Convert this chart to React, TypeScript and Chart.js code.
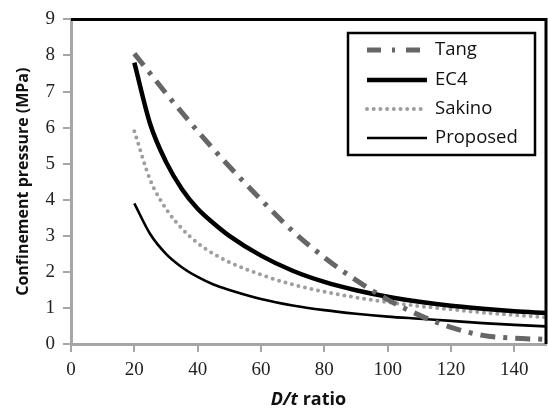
import React, { useEffect, useRef } from "react";
import { Chart, registerables } from "chart.js";

Chart.register(...registerables);

const X_VALUES = [20, 25, 30, 35, 40, 45, 50, 60, 70, 80, 90, 100, 110, 120, 130, 140, 150];
const TANG = [8.05, 7.5, 6.95, 6.42, 5.9, 5.4, 4.92, 4.0, 3.13, 2.4, 1.77, 1.23, 0.8, 0.46, 0.24, 0.16, 0.13];
const EC4 = [7.8, 6.1, 5.05, 4.3, 3.75, 3.35, 3.0, 2.45, 2.03, 1.72, 1.49, 1.31, 1.17, 1.06, 0.98, 0.91, 0.86];
const SAKINO = [5.9, 4.55, 3.75, 3.2, 2.8, 2.5, 2.27, 1.92, 1.65, 1.45, 1.29, 1.16, 1.05, 0.96, 0.87, 0.8, 0.74];
const PROPOSED = [3.9, 3.05, 2.5, 2.13, 1.86, 1.65, 1.5, 1.25, 1.07, 0.94, 0.84, 0.76, 0.7, 0.64, 0.58, 0.53, 0.49];
const X_TICKS = [0, 20, 40, 60, 80, 100, 120, 140];
const Y_TICKS = [0, 1, 2, 3, 4, 5, 6, 7, 8, 9];
const SERIES_NAMES = ["Tang", "EC4", "Sakino", "Proposed"];
const X_TITLE_ITALIC = "D/t";
const X_TITLE_REST = " ratio";
const Y_TITLE = "Confinement pressure (MPa)";

const STYLES = [
  { color: "#666666", width: 5, dash: [15, 8, 4, 8], cap: "butt" },
  { color: "#000000", width: 4.5, dash: [], cap: "butt" },
  { color: "#9e9e9e", width: 4, dash: [0, 6.7], cap: "round" },
  { color: "#000000", width: 2.6, dash: [], cap: "butt" },
];

const SERIES = [TANG, EC4, SAKINO, PROPOSED];

export default function App() {
  const ref = useRef<HTMLCanvasElement>(null);

  useEffect(() => {
    if (!ref.current) return;

    const framePlugin = {
      id: "frameAndLegend",
      afterDatasetsDraw(chart: any) {
        const { ctx, chartArea } = chart;
        const { left, top, right, bottom } = chartArea;
        ctx.save();
        ctx.strokeStyle = "#000";
        ctx.lineWidth = 3;
        ctx.setLineDash([]);
        ctx.beginPath();
        ctx.moveTo(left, top);
        ctx.lineTo(right, top);
        ctx.lineTo(right, bottom);
        ctx.stroke();

        const bx = 348, by = 33, bw = 187, bh = 122;
        ctx.fillStyle = "#fff";
        ctx.fillRect(bx, by, bw, bh);
        ctx.lineWidth = 2.5;
        ctx.strokeStyle = "#000";
        ctx.strokeRect(bx, by, bw, bh);

        const rowY = [50, 80, 109, 138];
        const legendDash = [[14, 11, 3, 11], [], [0, 6.7], []];
        ctx.font = "18.5px 'Open Sans'";
        ctx.textBaseline = "middle";
        ctx.textAlign = "left";
        SERIES_NAMES.forEach((name, i) => {
          const s = STYLES[i];
          ctx.beginPath();
          ctx.strokeStyle = s.color;
          ctx.lineWidth = s.width;
          ctx.lineCap = s.cap;
          ctx.setLineDash(legendDash[i]);
          ctx.moveTo(367, rowY[i]);
          ctx.lineTo(427, rowY[i]);
          ctx.stroke();
          ctx.setLineDash([]);
          ctx.lineCap = "butt";
          ctx.fillStyle = "#111";
          ctx.fillText(name, 435, rowY[i]);
        });

        ctx.restore();
      },
      afterDraw(chart: any) {
        const { ctx, chartArea } = chart;
        ctx.save();
        const cx = (chartArea.left + chartArea.right) / 2;
        const y = 400;
        ctx.textBaseline = "middle";
        ctx.fillStyle = "#111";
        const fItalic = "italic bold 18px 'Open Sans'";
        const fBold = "bold 18px 'Open Sans'";
        ctx.font = fItalic;
        const w1 = ctx.measureText(X_TITLE_ITALIC).width;
        ctx.font = fBold;
        const w2 = ctx.measureText(X_TITLE_REST).width;
        const start = cx - (w1 + w2) / 2;
        ctx.textAlign = "left";
        ctx.font = fItalic;
        ctx.fillText(X_TITLE_ITALIC, start, y);
        ctx.font = fBold;
        ctx.fillText(X_TITLE_REST, start + w1, y);
        ctx.restore();
      },
    };

    const chart = new Chart(ref.current, {
      type: "line",
      data: {
        datasets: SERIES.map((vals, i) => ({
          label: SERIES_NAMES[i],
          data: X_VALUES.map((x, j) => ({ x, y: vals[j] })),
          borderColor: STYLES[i].color,
          borderWidth: STYLES[i].width,
          borderDash: STYLES[i].dash,
          borderCapStyle: STYLES[i].cap as any,
          pointRadius: 0,
          fill: false,
          cubicInterpolationMode: "monotone" as const,
        })),
      },
      options: {
        responsive: false,
        animation: false,
        layout: { padding: { top: 18, right: 2, left: 0, bottom: 0 } },
        plugins: {
          legend: { display: false },
          tooltip: { enabled: false },
        },
        scales: {
          x: {
            type: "linear",
            min: 0,
            max: 150,
            afterFit: (s: any) => {
              s.height = 66;
            },
            afterBuildTicks: (s: any) => {
              s.ticks = X_TICKS.map((v) => ({ value: v }));
            },
            ticks: {
              padding: 7,
              autoSkip: false,
              color: "#222",
              font: { family: "'Liberation Serif'", size: 19 },
              maxRotation: 0,
            },
            grid: {
              display: true,
              drawOnChartArea: false,
              drawTicks: true,
              tickLength: 8,
              color: "#a6a6a6",
              lineWidth: 2,
            },
            border: { display: true, color: "#a6a6a6", width: 3 },
            title: { display: false },
          },
          y: {
            type: "linear",
            min: 0,
            max: 9,
            afterFit: (s: any) => {
              s.width = 71;
            },
            afterBuildTicks: (s: any) => {
              s.ticks = Y_TICKS.map((v) => ({ value: v }));
            },
            ticks: {
              padding: 8,
              autoSkip: false,
              color: "#222",
              font: { family: "'Liberation Serif'", size: 19 },
            },
            grid: {
              display: true,
              drawOnChartArea: false,
              drawTicks: true,
              tickLength: 8,
              color: "#a6a6a6",
              lineWidth: 2,
            },
            border: { display: true, color: "#a6a6a6", width: 3 },
            title: {
              display: true,
              text: Y_TITLE,
              color: "#111",
              font: { family: "'Open Sans'", size: 16, weight: "bold" },
              padding: { top: 14, bottom: 0 },
            },
          },
        },
      },
      plugins: [framePlugin],
    });

    return () => chart.destroy();
  }, []);

  return (
    <div style={{ position: "fixed", left: 0, top: 0, width: 548, height: 410, background: "#fff" }}>
      <canvas ref={ref} width={548} height={410} />
    </div>
  );
}
